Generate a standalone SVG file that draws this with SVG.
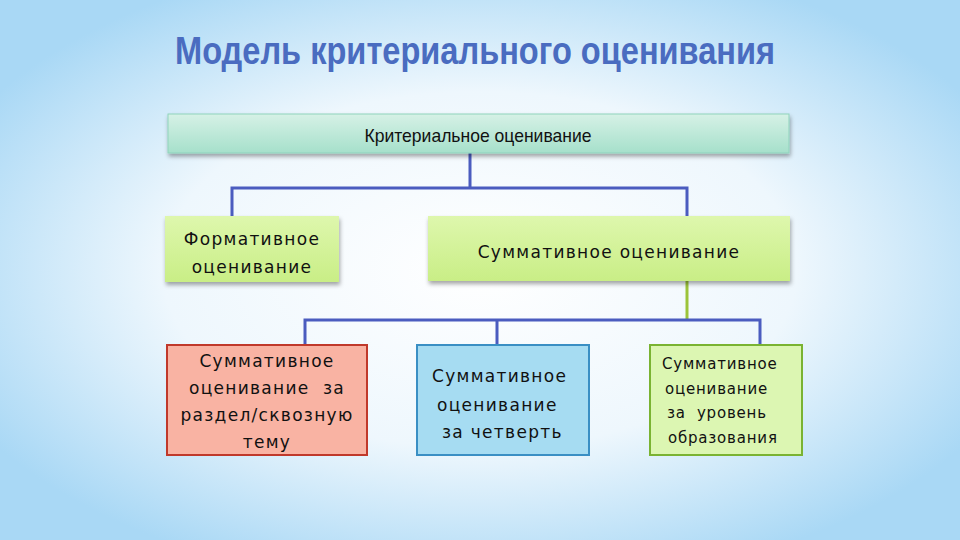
<svg xmlns="http://www.w3.org/2000/svg" width="960" height="540" viewBox="0 0 960 540">
<defs>
<radialGradient id="bg" cx="50%" cy="50%" r="60%">
<stop offset="0" stop-color="#ffffff"/><stop offset="0.55" stop-color="#eef7fd"/><stop offset="1" stop-color="#a9d8f5"/>
</radialGradient>
<linearGradient id="top" x1="0" y1="0" x2="0" y2="1"><stop offset="0" stop-color="#d6f1e6"/><stop offset="1" stop-color="#a6e0cb"/></linearGradient>
<linearGradient id="grn" x1="0" y1="0" x2="0" y2="1"><stop offset="0" stop-color="#def7ad"/><stop offset="1" stop-color="#c9ee86"/></linearGradient>
<filter id="sh" x="-5%" y="-20%" width="110%" height="150%"><feDropShadow dx="1" dy="3" stdDeviation="2" flood-color="#000" flood-opacity="0.35"/></filter>
</defs>
<style>
.t{font-family:"DejaVu Sans",sans-serif;font-size:17px;fill:#111;letter-spacing:1.3px}
.c{text-anchor:middle}
.ln{stroke:#4b5cbf;stroke-width:3;fill:none}
</style>
<rect width="960" height="540" fill="url(#bg)"/>
<text x="475" y="64" text-anchor="middle" textLength="600" lengthAdjust="spacingAndGlyphs" font-family="Liberation Sans,sans-serif" font-weight="bold" font-size="38" fill="#4a6cc0">Модель критериального оценивания</text>
<g id="connectors">
<path class="ln" d="M470 153V188M232 216V188H687V216"/>
<path d="M687 281V320" stroke="#9cc43a" stroke-width="3"/>
<path class="ln" d="M305 345V320H760V345M497 320V345"/>
</g>
<g id="n-crit"><rect x="168" y="114" width="621" height="39" fill="url(#top)" stroke="#8fd3bc" filter="url(#sh)"/>
<text x="478" y="142" text-anchor="middle" textLength="227" lengthAdjust="spacingAndGlyphs" font-family="Liberation Sans,sans-serif" font-size="19" fill="#111">Критериальное оценивание</text></g>
<g id="n-form"><rect x="165" y="216" width="174" height="66" fill="url(#grn)" filter="url(#sh)"/>
<text class="t c" x="252" y="245">Формативное</text><text class="t c" x="252" y="273">оценивание</text></g>
<g id="n-summ"><rect x="428" y="216" width="362" height="65" fill="url(#grn)" filter="url(#sh)"/>
<text class="t c" x="609" y="258">Суммативное оценивание</text></g>
<g id="n-red"><rect x="167" y="345" width="200" height="110" fill="#f9b3a3" stroke="#c0392b" stroke-width="2"/>
<text class="t c" x="267" y="367">Суммативное</text><text class="t c" x="267" y="394" xml:space="preserve">оценивание  за</text><text class="t c" x="267" y="421">раздел/сквозную</text><text class="t c" x="267" y="448">тему</text></g>
<g id="n-blue"><rect x="417" y="345" width="172" height="110" fill="#a6dcf2" stroke="#3a8fc4" stroke-width="2"/>
<text class="t" x="432" y="382">Суммативное</text><text class="t" x="437" y="411">оценивание</text><text class="t" x="442" y="438">за четверть</text></g>
<g id="n-green"><rect x="650" y="345" width="152" height="110" fill="#dcf6b2" stroke="#7ab332" stroke-width="2"/>
<text class="t" x="662" y="369" style="font-size:15px;letter-spacing:0.8px">Суммативное</text><text class="t" x="665" y="394" style="font-size:15px;letter-spacing:0.8px">оценивание</text><text class="t" x="667" y="418" style="font-size:15px;letter-spacing:0.8px" xml:space="preserve">за  уровень</text><text class="t" x="668" y="443" style="font-size:15px;letter-spacing:0.8px">образования</text></g>
</svg>
